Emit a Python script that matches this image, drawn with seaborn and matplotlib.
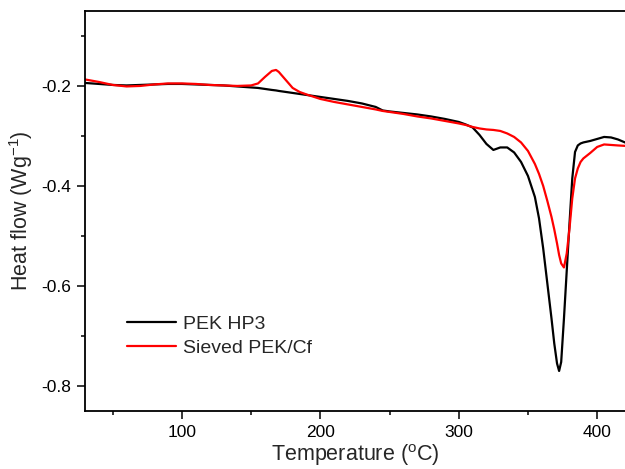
import numpy as np
import pandas as pd
import seaborn as sns
import matplotlib.pyplot as plt
from matplotlib.ticker import MultipleLocator

# DSC traces (temperature in C, heat flow in W/g)
temperature = [30, 40, 50, 60, 70, 80, 90, 100, 110, 120, 130, 140, 150, 155,
               160, 165, 168, 170, 175, 180, 185, 190, 200, 210, 220, 230, 240,
               245, 250, 260, 270, 280, 290, 300, 305, 310, 315, 320, 325, 330,
               335, 340, 345, 350, 355, 358, 361, 364, 367, 369, 371, 372.5,
               374, 376, 378, 380, 382, 384, 386, 388, 390, 395, 400, 405, 410,
               415, 421]

pek_hp3 = [-0.194, -0.196, -0.198, -0.199, -0.198, -0.197, -0.196, -0.196,
           -0.197, -0.198, -0.199, -0.201, -0.203, -0.204, -0.206, -0.208,
           -0.209, -0.210, -0.212, -0.214, -0.216, -0.218, -0.222, -0.226,
           -0.230, -0.235, -0.242, -0.249, -0.251, -0.254, -0.257, -0.261,
           -0.266, -0.272, -0.277, -0.283, -0.298, -0.316, -0.328, -0.323,
           -0.323, -0.333, -0.352, -0.380, -0.422, -0.465, -0.525, -0.595,
           -0.665, -0.715, -0.755, -0.770, -0.752, -0.665, -0.570, -0.475,
           -0.385, -0.332, -0.319, -0.315, -0.313, -0.310, -0.306, -0.302,
           -0.303, -0.307, -0.314]

sieved_pek_cf = [-0.187, -0.192, -0.198, -0.201, -0.200, -0.197, -0.195, -0.195,
                 -0.196, -0.198, -0.199, -0.200, -0.199, -0.195, -0.182, -0.170,
                 -0.168, -0.172, -0.188, -0.204, -0.212, -0.217, -0.226, -0.232,
                 -0.237, -0.242, -0.247, -0.250, -0.252, -0.256, -0.261, -0.265,
                 -0.270, -0.275, -0.278, -0.282, -0.285, -0.287, -0.288, -0.290,
                 -0.295, -0.302, -0.313, -0.330, -0.356, -0.376, -0.400, -0.430,
                 -0.462, -0.487, -0.515, -0.538, -0.555, -0.563, -0.535, -0.485,
                 -0.425, -0.385, -0.365, -0.352, -0.345, -0.334, -0.322, -0.317,
                 -0.318, -0.319, -0.320]

labels = ['PEK HP3', 'Sieved PEK/Cf']

df = pd.concat([
    pd.DataFrame({'T': temperature, 'HF': pek_hp3, 'sample': labels[0]}),
    pd.DataFrame({'T': temperature, 'HF': sieved_pek_cf, 'sample': labels[1]}),
])

sns.set_style('ticks')
plt.rcParams['font.family'] = ['Liberation Sans', 'DejaVu Sans']
plt.rcParams['mathtext.fontset'] = 'custom'
plt.rcParams['mathtext.rm'] = 'Liberation Sans'
plt.rcParams['axes.unicode_minus'] = False

fig = plt.figure(figsize=(6.25, 4.69), dpi=100)
ax = fig.add_axes([0.136, 0.1237, 0.866, 0.853])

sns.lineplot(data=df, x='T', y='HF', hue='sample', hue_order=labels,
             palette=['black', 'red'], linewidth=1.6, sort=False, ax=ax)

ax.set_xlim(30, 421)
ax.set_ylim(-0.85, -0.05)
ax.xaxis.set_major_locator(MultipleLocator(100))
ax.xaxis.set_minor_locator(MultipleLocator(50))
ax.yaxis.set_major_locator(MultipleLocator(0.2))
ax.yaxis.set_minor_locator(MultipleLocator(0.1))
ax.tick_params(which='major', length=5.8, width=1.1, labelsize=12.5, pad=4,
               color='black', labelcolor='black')
ax.tick_params(which='minor', length=3, width=1.1, color='black')
for s in ['left', 'bottom', 'top']:
    ax.spines[s].set_linewidth(1.3)
    ax.spines[s].set_color('black')
ax.spines['right'].set_visible(False)

ax.set_xlabel(r'Temperature ($\mathregular{^{o}}$C)', fontsize=15.5, labelpad=2)
ax.set_ylabel(r'Heat flow (Wg$\mathregular{^{-1}}$)', fontsize=15.5, labelpad=5)

ax.legend(frameon=False, fontsize=14, loc='center left',
          bbox_to_anchor=(0.078, 0.1875), borderpad=0, borderaxespad=0,
          handlelength=2.5, handletextpad=0.35, labelspacing=0.3)

fig.savefig('out.png', dpi=100)
plt.close(fig)
